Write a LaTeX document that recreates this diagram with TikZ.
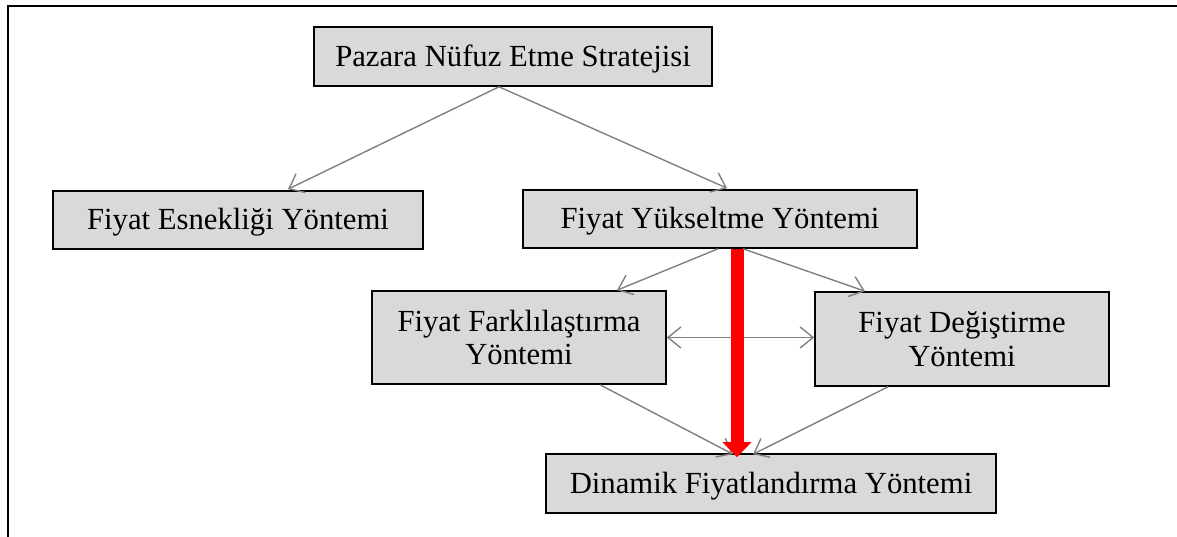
\documentclass[tikz,border=0pt]{standalone}
\usepackage{fontspec}
\setmainfont{Liberation Serif}
\usetikzlibrary{arrows.meta,calc}
\definecolor{boxgray}{RGB}{217,217,217}
\definecolor{linegray}{RGB}{128,128,128}
\tikzset{
  box/.style={draw=black, line width=1.6pt, fill=boxgray, inner sep=0pt, align=center,
    font=\fontsize{30.7}{33.5}\selectfont},
  onebox/.style={box, text height=27pt, text depth=7pt},
  conn/.style={draw=linegray, line width=1.4pt, -{Straight Barb[length=13pt,width=21pt,line width=1.4pt]}},
  dconn/.style={draw=linegray, line width=1.4pt, {Straight Barb[length=13pt,width=21pt,line width=1.4pt]}-{Straight Barb[length=13pt,width=21pt,line width=1.4pt]}},
  redarrow/.style={draw=red, line width=13pt, -{Triangle[length=15pt,width=28pt]}},
}
\begin{document}
\begin{tikzpicture}[x=1pt,y=-1pt]
\useasboundingbox (0,0) rectangle (1177,537);
\draw[line width=2.8pt] (1177,6) -- (8,6) -- (8,537);
\node[onebox, minimum width=398pt, minimum height=59pt] (top) at (513,56.5) {Pazara Nüfuz Etme Stratejisi};
\node[onebox, minimum width=370pt, minimum height=58pt] (esn) at (238,220) {Fiyat Esnekliği Yöntemi};
\node[onebox, minimum width=394pt, minimum height=58pt] (yuk) at (720,219) {Fiyat Yükseltme Yöntemi};
\node[box, minimum width=294pt, minimum height=93pt] (fark) at (519,337.5) {Fiyat Farklılaştırma\\Yöntemi};
\node[box, minimum width=294pt, minimum height=94pt] (deg) at (962,339) {Fiyat Değiştirme\\Yöntemi};
\node[onebox, minimum width=450pt, minimum height=59pt] (dyn) at (771,483.5) {Dinamik Fiyatlandırma Yöntemi};
\draw[conn] ([xshift=-14pt]top.south) -- ([xshift=50pt,yshift=1pt]esn.north);
\draw[conn] ([xshift=-14pt]top.south) -- ([xshift=7pt,yshift=1pt]yuk.north);
\draw[conn] ([xshift=-2pt]yuk.south) -- ([xshift=98pt]fark.north);
\draw[conn] ([xshift=23pt]yuk.south) -- ([xshift=-97pt]deg.north);
\draw[dconn] (fark.east) -- (fark.east -| deg.west);
\draw[conn] ([xshift=81pt]fark.south) -- ([xshift=-38pt,yshift=-1pt]dyn.north);
\draw[conn] ([xshift=-74pt]deg.south) -- ([xshift=-18pt,yshift=-1pt]dyn.north);
\draw[redarrow] ([xshift=17pt]yuk.south) -- ([xshift=-34pt,yshift=-4pt]dyn.north);
\end{tikzpicture}
\end{document}
